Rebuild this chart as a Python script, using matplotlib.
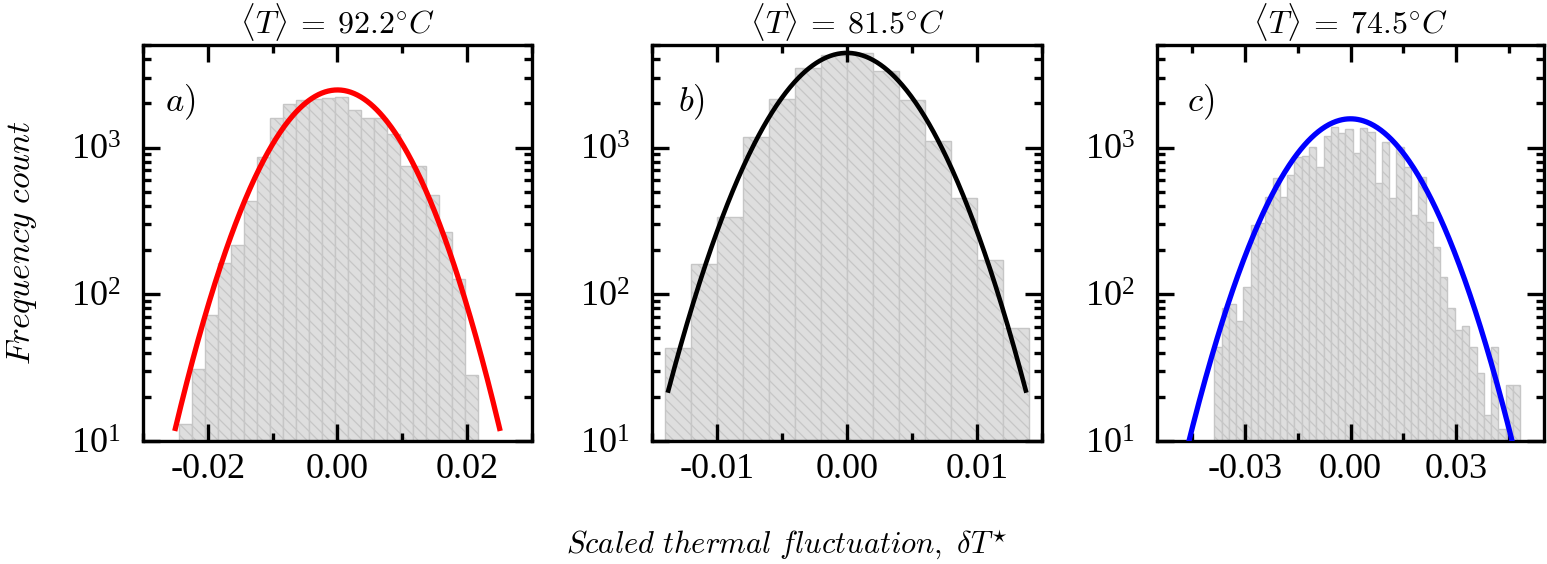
import matplotlib
matplotlib.use("Agg")
import matplotlib.pyplot as plt
import matplotlib.ticker as mticker
import numpy as np

plt.rcParams['font.family'] = ['Liberation Serif', 'DejaVu Serif']
plt.rcParams['mathtext.fontset'] = 'custom'
plt.rcParams['mathtext.rm'] = 'Liberation Serif'
plt.rcParams['axes.unicode_minus'] = False
plt.rcParams['hatch.linewidth'] = 0.9

# panel a) <T> = 92.2 C
a_start = -0.0244
a_width = 0.002
a_counts = [13, 31, 72, 163, 217, 433, 869, 1593, 1995, 2100, 2137, 2193,
            2228, 1807, 1578, 1602, 1233, 750, 750, 473, 266, 128, 28]
a_fit = (2470, 0.00767, 0.025)   # amplitude, sigma, half range drawn

# panel b) <T> = 81.5 C
b_start = -0.014
b_width = 0.002
b_counts = [43, 160, 338, 1189, 2140, 3467, 4300, 4400, 3306, 2104, 1110,
            455, 172, 59]
b_fit = (4416, 0.004224, 0.01375)

# panel c) <T> = 74.5 C
c_start = -0.0387
c_width = 0.00207
c_counts = [44, 80, 86, 66, 112, 297, 307, 462, 617, 462, 650, 868, 882,
            1016, 742, 1201, 1377, 1266, 1334, 924, 1355, 1286, 576, 1099,
            451, 1016, 742, 347, 634, 312, 211, 131, 80, 57, 61, 44, 29, 15,
            44, 12, 24, 24]
c_fit = (1570, 0.01444, 0.05)

titles = [r'$\langle T\rangle \:=\: 92.2^{\circ}C$',
          r'$\langle T\rangle \:=\: 81.5^{\circ}C$',
          r'$\langle T\rangle \:=\: 74.5^{\circ}C$']
letters = [r'$a)$', r'$b)$', r'$c)$']

panels = [
    (a_start, a_width, a_counts, a_fit, 'red', 0.02, 0.01, 0.03, [0.0924, 0.2181, 0.2515, 0.7021], 0.057),
    (b_start, b_width, b_counts, b_fit, 'black', 0.01, 0.005, 0.015, [0.4215, 0.2181, 0.2521, 0.7021], 0.067),
    (c_start, c_width, c_counts, c_fit, 'blue', 0.03, 0.015, 0.055, [0.7479, 0.2181, 0.2502, 0.7021], 0.078),
]

fig = plt.figure(figsize=(15.47, 5.64), dpi=100)

for i, (start, width, counts, fit, col, major, minor, xl, pos, lx) in enumerate(panels):
    ax = fig.add_axes(pos)
    lefts = start + width * np.arange(len(counts))
    ax.bar(lefts, counts, width=width, align='edge', bottom=0,
           facecolor='#dedede', edgecolor='#c6c6c6', linewidth=1.0,
           hatch='\\\\\\', zorder=1)
    amp, sig, half = fit
    xs = np.linspace(-half, half, 400)
    ax.plot(xs, amp * np.exp(-xs**2 / (2 * sig**2)), color=col,
            lw=3.8 if col != 'black' else 3.3, zorder=3)

    ax.set_yscale('log')
    ax.set_ylim(10, 5000)
    ax.set_xlim(-xl, xl)
    ax.xaxis.set_major_locator(mticker.MultipleLocator(major))
    ax.xaxis.set_minor_locator(mticker.MultipleLocator(minor))
    ax.xaxis.set_major_formatter(mticker.FormatStrFormatter('%.2f'))
    ax.yaxis.set_major_locator(mticker.LogLocator(base=10, numticks=10))
    ax.yaxis.set_minor_locator(mticker.LogLocator(base=10, subs=np.arange(2, 10), numticks=10))
    ax.yaxis.set_minor_formatter(mticker.NullFormatter())

    ax.tick_params(which='both', direction='in', top=True, right=True,
                   width=2.4, labelsize=26)
    ax.tick_params(which='major', length=12.5)
    ax.tick_params(which='minor', length=6)
    ax.tick_params(axis='y', which='major', pad=16)
    ax.tick_params(axis='x', which='major', pad=9)
    for s in ax.spines.values():
        s.set_linewidth(2.4)

    ax.set_title(titles[i], fontsize=23, pad=8, math_fontfamily='cm')
    ax.text(lx, 0.856, letters[i], transform=ax.transAxes, fontsize=25,
            va='center', ha='left', math_fontfamily='cm')

fig.text(22 / 1547, 0.569, r'$Frequency\ count$', rotation=90, fontsize=24,
         ha='center', va='center', math_fontfamily='cm')
fig.text(0.509, 0.034, r'$Scaled\ thermal\ fluctuation,\ \delta T^{\star}$',
         fontsize=22, ha='center', va='center', math_fontfamily='cm')

fig.savefig('out.png', dpi=100)
